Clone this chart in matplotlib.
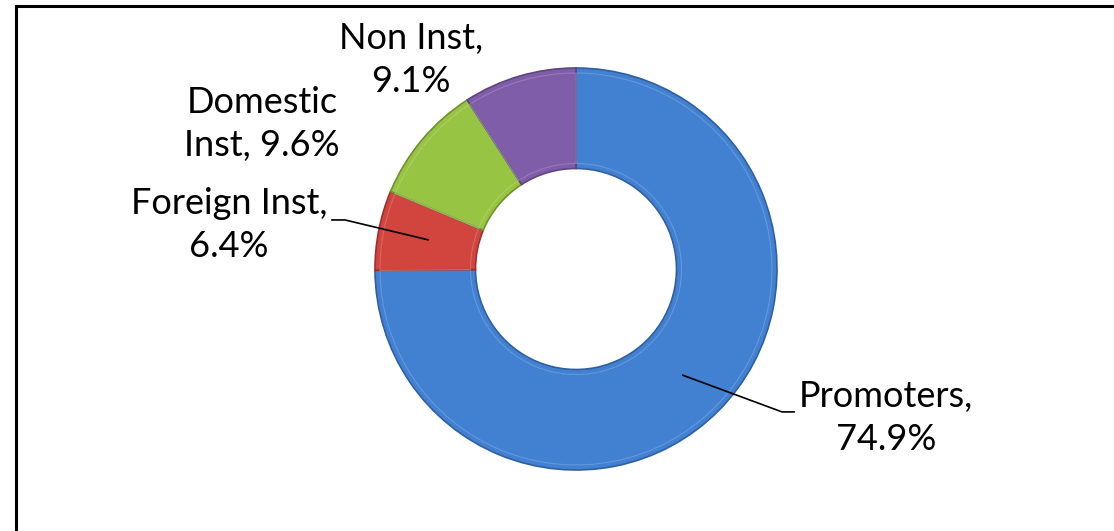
import numpy as np
import matplotlib
matplotlib.use("Agg")
import matplotlib.pyplot as plt
from matplotlib.lines import Line2D

# shareholding pattern
labels = ["Promoters", "Foreign Inst", "Domestic Inst", "Non Inst"]
shares = [74.9, 6.4, 9.6, 9.1]
colors = ["#4281D2", "#D2453F", "#98C443", "#7F5DA9"]
edges = ["#2F5F9E", "#9E302C", "#6F9130", "#5E4480"]

# label text (how excel wrapped them) and where they sit, in data units
label_text = ["Promoters,\n74.9%", "Foreign Inst,\n6.4%", "Domestic\nInst, 9.6%", "Non Inst,\n9.1%"]
label_pos = [(1.542, -0.74), (-1.726, 0.22), (-1.562, 0.72), (-0.82, 1.04)]

W, H = 1114, 531
fig = plt.figure(figsize=(W / 100, H / 100), dpi=100)
plt.rcParams['font.family'] = ['Lato', 'DejaVu Sans']

# axes box sized so the ring has radius ~201px centred at (576, 269)
cx, cy, R = 576, 269, 201
ax = fig.add_axes([(cx - R) / W, (H - cy - R) / H, 2 * R / W, 2 * R / H])
ax.set_xlim(-1, 1)
ax.set_ylim(-1, 1)
ax.set_aspect('equal')
ax.axis('off')

wedges, _ = ax.pie(shares, colors=colors, startangle=90, counterclock=False,
                   radius=1.0, wedgeprops=dict(width=0.5, linewidth=1.2),
                   frame=False)
for w, ec in zip(wedges, edges):
    w.set_edgecolor(ec)

# faint bevel highlight on each slice
ax.pie(shares, colors=["none"] * 4, startangle=90, counterclock=False,
       radius=0.975, wedgeprops=dict(width=0.45, linewidth=0.8, edgecolor=(1, 1, 1, 0.18)),
       frame=False)
ax.set_xlim(-1, 1)
ax.set_ylim(-1, 1)

for txt, (x, y) in zip(label_text, label_pos):
    ax.text(x, y, txt, ha='center', va='center', fontsize=26, clip_on=False,
            linespacing=1.38, color='black')

# leader lines for Promoters and Foreign Inst, starting at the middle of the slice
cum = np.cumsum([0] + shares[:-1])
mids = [90 - 3.6 * (c + s / 2) for c, s in zip(cum, shares)]
leader = {0: [(1.025, -0.711), (1.085, -0.711)], 1: [(-1.149, 0.244), (-1.214, 0.244)]}
for i, pts in leader.items():
    a = np.deg2rad(mids[i])
    xs = [0.75 * np.cos(a)] + [p[0] for p in pts]
    ys = [0.75 * np.sin(a)] + [p[1] for p in pts]
    ax.plot(xs, ys, color='black', lw=1.2, clip_on=False)

# chart area border (cut off at right and bottom)
fig.add_artist(Line2D([16 / W, 1], [1 - 6 / H, 1 - 6 / H], color='black', lw=2.2))
fig.add_artist(Line2D([16 / W, 16 / W], [0, 1 - 6 / H], color='black', lw=2.2))

fig.savefig("out.png", dpi=100, facecolor='white')
